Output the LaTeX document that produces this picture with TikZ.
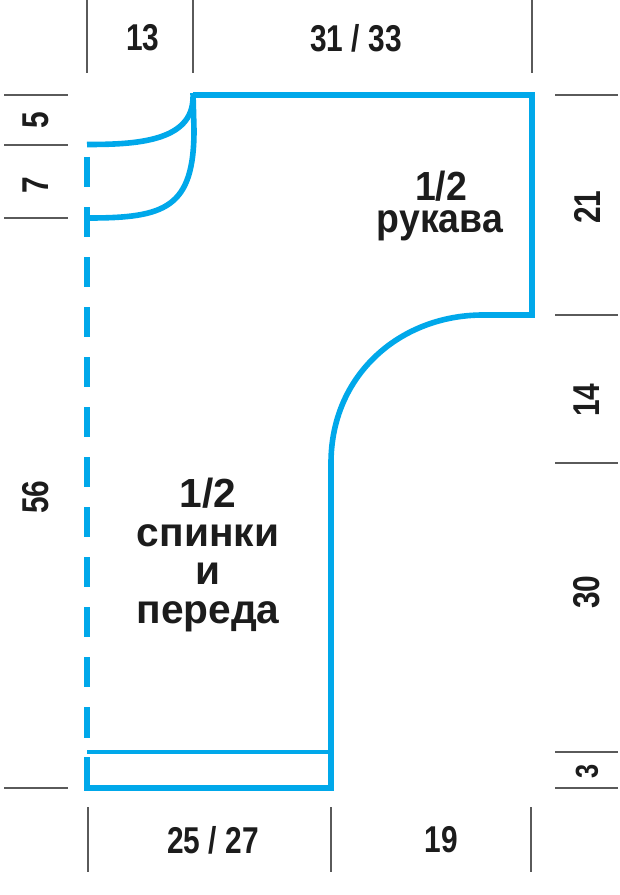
\documentclass[tikz,border=0pt]{standalone}
\usepackage{fontspec}
\setmainfont{Liberation Sans}
\definecolor{patblue}{HTML}{00A8EA}
\definecolor{tickgrey}{HTML}{5A5A5A}
\definecolor{ink}{HTML}{1C1C1C}
\tikzset{
  patline/.style={draw=patblue,line width=4.2pt,line join=miter},
  hemline/.style={draw=patblue,line width=3pt},
  foldline/.style={draw=patblue,line width=4pt},
  ticki/.style={draw=tickgrey,line width=1.2pt},
  dimlabel/.style={text=ink,inner sep=0pt,font=\fontsize{28}{30}\selectfont\bfseries,xscale=.8},
  vdimlabel/.style={text=ink,inner sep=0pt,font=\fontsize{28}{30}\selectfont\bfseries,rotate=90,xscale=.8},
  partlabel/.style={text=ink,inner sep=0pt,align=center,font=\fontsize{30.5}{28}\selectfont\bfseries}
}
\begin{document}
\begin{tikzpicture}[x=.75pt,y=-.75pt]
\useasboundingbox (0,0) rectangle (620,895);
\fill[white] (0,0) rectangle (620,895);
% ticks
\foreach \x in {87,193,532} \draw[ticki] (\x,0) -- (\x,73);
\foreach \x in {88,331,531} \draw[ticki] (\x,807) -- (\x,872);
\foreach \y in {95,145,218,788} \draw[ticki] (4,\y) -- (68,\y);
\foreach \y in {95,315,463,752,788} \draw[ticki] (555,\y) -- (618,\y);
% outline
\draw[patline] (193,95) -- (532,95) -- (532,315) -- (483,315)
  .. controls (400,315) and (331,375) .. (331,463) -- (331,788) -- (87,788) -- (87,757);
\draw[hemline] (87,752) -- (331,752);
% neck
\draw[patline] (87,144.5) .. controls (135,144.5) and (193,142) .. (193,97);
\draw[patline] (89,218) .. controls (165,218) and (194,208) .. (194,130) -- (193,93);
% fold
\draw[foldline] (87,157) -- (87,738);
\foreach \y in {187,237,...,687} \draw[white,line width=4.8pt] (87,\y) -- (87,\y+20);
% labels
\node[dimlabel] (t13) at (143,38) {13};
\node[dimlabel] (t31) at (356,38) {31 / 33};
\node[dimlabel] (b25) at (213,840) {25 / 27};
\node[dimlabel] (b19) at (441,840) {19};
\node[vdimlabel] (l5) at (36,120) {5};
\node[vdimlabel] (l7) at (36,185) {7};
\node[vdimlabel] (l56) at (36,497) {56};
\node[vdimlabel] (r21) at (587,207) {21};
\node[vdimlabel] (r14) at (587,400) {14};
\node[vdimlabel] (r30) at (587,592) {30};
\node[vdimlabel,scale=.85] (r3) at (587,771) {3};
\node[partlabel,xscale=.92,anchor=base] (sleevea) at (441,200) {1/2};
\node[partlabel,xscale=.92,anchor=base] (sleeveb) at (440,232) {рукава};
\node[partlabel] (body) at (208,555) {1/2\\[.9pt]спинки\\[.9pt]и\\[.9pt]переда};
\end{tikzpicture}
\end{document}
